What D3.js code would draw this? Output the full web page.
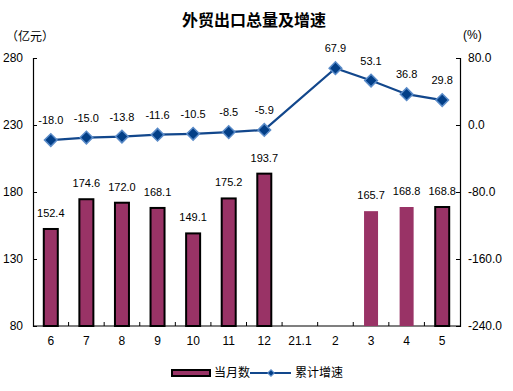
<!DOCTYPE html>
<html><head><meta charset="utf-8">
<script src="https://cdn.jsdelivr.net/npm/d3@7"></script>
<style>body{margin:0;background:#fff}svg{display:block}</style>
</head><body>
<script>
const categories = ["6","7","8","9","10","11","12","21.1","2","3","4","5"];
const monthly = [152.4,174.6,172.0,168.1,149.1,175.2,193.7,null,null,165.7,168.8,168.8];
const growth = [-18.0,-15.0,-13.8,-11.6,-10.5,-8.5,-5.9,null,67.9,53.1,36.8,29.8];
const leftTicks = [80,130,180,230,280];
const rightTicks = [-240,-160,-80,0,80];
const title = "外贸出口总量及增速";
const leftUnit = "（亿元）";
const rightUnit = "(%)";
const legendBar = "当月数";
const legendLine = "累计增速";
const outlinedCats = ["6","7","8","9","10","11","12","5"];

const W = 513, H = 391;
const X0 = 33, X1 = 460, Y0 = 326, Y1 = 58;
const cjk = "'Noto Sans CJK SC', sans-serif";
const num = "'Liberation Sans', Arial, sans-serif";
const barColor = "#993366", lineColor = "#12478C";
const loc = d3.formatLocale({decimal: ".", thousands: ",", grouping: [3], currency: ["", ""], minus: "-"});
const f1 = loc.format(".1f");

const svg = d3.select("body").append("svg").attr("width", W).attr("height", H);

const x = d3.scaleBand().domain(categories).range([X0, X1]).padding(0);
const yL = d3.scaleLinear().domain([80, 280]).range([Y0, Y1]);
const yR = d3.scaleLinear().domain([-240, 80]).range([Y0, Y1]);

// title & units
svg.append("text").attr("x", 254).attr("y", 26).attr("text-anchor", "middle")
  .style("font", `bold 16px ${cjk}`).text(title);
svg.append("text").attr("x", 6).attr("y", 41).style("font", `12px ${cjk}`).text(leftUnit);
svg.append("text").attr("x", 463).attr("y", 39).style("font", `12px ${num}`).text(rightUnit);

// axes
const axL = svg.append("g").attr("transform", `translate(${X0},0)`)
  .call(d3.axisLeft(yL).tickValues(leftTicks).tickSize(-4).tickPadding(10).tickFormat(d3.format("d")));
const axR = svg.append("g").attr("transform", `translate(${X1},0)`)
  .call(d3.axisRight(yR).tickValues(rightTicks).tickSize(-4).tickPadding(8).tickFormat(f1));
const boundaries = categories.slice(1).map(c => x(c));
const axB = svg.append("g").attr("transform", `translate(0,${Y0})`)
  .call(d3.axisBottom(x).tickSize(0).tickPadding(10));
axB.selectAll(".tick text").style("font", `12px ${num}`);
svg.append("g").selectAll("line").data(boundaries).join("line")
  .attr("x1", d => d).attr("x2", d => d).attr("y1", Y0).attr("y2", Y0 - 4)
  .attr("stroke", "#000");
[axL, axR, axB].forEach(a => {
  a.select(".domain").attr("stroke", "#000").attr("stroke-width", 1.2);
  a.selectAll(".tick line").attr("stroke", "#000");
  a.selectAll(".tick text").attr("fill", "#000");
});
axL.selectAll(".tick text").style("font", `12px ${num}`);
axR.selectAll(".tick text").style("font", `12px ${num}`);
axB.select(".domain").attr("d", `M${X0},0H${X1}`);

// bars
const bw = 14;
const barData = categories.map((c, i) => ({c, v: monthly[i]})).filter(d => d.v != null);
svg.append("g").selectAll("rect").data(barData).join("rect")
  .attr("x", d => x(d.c) + x.bandwidth() / 2 - bw / 2)
  .attr("y", d => yL(d.v))
  .attr("width", bw)
  .attr("height", d => Y0 - yL(d.v))
  .attr("fill", barColor)
  .attr("stroke", d => outlinedCats.includes(d.c) ? "#000" : "none")
  .attr("stroke-width", 2);
svg.append("g").selectAll("text").data(barData).join("text")
  .attr("x", d => x(d.c) + x.bandwidth() / 2)
  .attr("y", d => yL(d.v) - 12)
  .attr("text-anchor", "middle")
  .style("font", `11px ${num}`)
  .text(d => f1(d.v));

// line
const lineData = categories.map((c, i) => ({c, v: growth[i]})).filter(d => d.v != null);
const line = d3.line().x(d => x(d.c) + x.bandwidth() / 2).y(d => yR(d.v));
svg.append("path").datum(lineData).attr("d", line)
  .attr("fill", "none").attr("stroke", lineColor).attr("stroke-width", 2.2);
const diamond = d3.symbol().type(d3.symbolSquare).size(80);
svg.append("g").selectAll("path").data(lineData).join("path")
  .attr("transform", d => `translate(${x(d.c) + x.bandwidth() / 2},${yR(d.v)}) rotate(45)`)
  .attr("d", diamond)
  .attr("fill", "#033F87").attr("stroke", "#5A8BC8").attr("stroke-width", 1.5);
svg.append("g").selectAll("text").data(lineData).join("text")
  .attr("x", d => x(d.c) + x.bandwidth() / 2)
  .attr("y", d => yR(d.v) - 16)
  .attr("text-anchor", "middle")
  .style("font", `11px ${num}`)
  .text(d => f1(d.v));

// legend
const lg = svg.append("g");
lg.append("rect").attr("x", 172).attr("y", 370).attr("width", 38).attr("height", 6)
  .attr("fill", barColor).attr("stroke", "#000").attr("stroke-width", 2);
lg.append("text").attr("x", 214).attr("y", 377).style("font", `12px ${cjk}`).text(legendBar);
lg.append("line").attr("x1", 250).attr("x2", 291).attr("y1", 373).attr("y2", 373)
  .attr("stroke", lineColor).attr("stroke-width", 2);
lg.append("path").attr("transform", "translate(271,373) rotate(45)")
  .attr("d", d3.symbol().type(d3.symbolSquare).size(22))
  .attr("fill", "#033F87").attr("stroke", "#5A8BC8").attr("stroke-width", 1);
lg.append("text").attr("x", 295).attr("y", 377).style("font", `12px ${cjk}`).text(legendLine);
</script>
</body></html>
